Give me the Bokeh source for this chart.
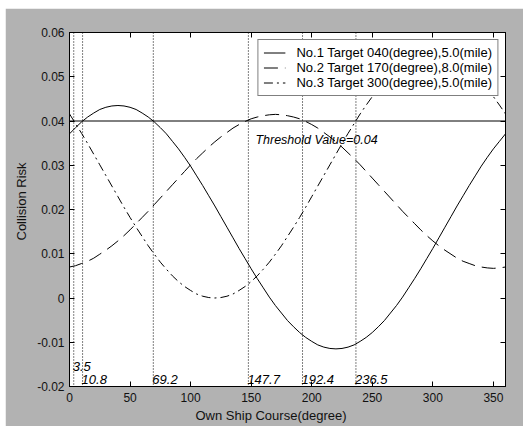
from bokeh.plotting import figure
from bokeh.models import (Range1d, LinearAxis, FixedTicker, Label, Span, Legend, LegendItem, Title,
                          CustomLabelingPolicy)
from bokeh.embed import file_html
from bokeh.resources import INLINE

# ---------------- data ----------------
course = list(range(0, 361, 5))

risk_target1 = [0.0371, 0.0385, 0.0398, 0.0409, 0.0418, 0.0426, 0.0431, 0.0434, 0.0435, 0.0434,
                0.0431, 0.0426, 0.0418, 0.0409, 0.0398, 0.0385, 0.0371, 0.0354, 0.0337, 0.0318,
                0.0298, 0.0276, 0.0254, 0.0231, 0.0208, 0.0184, 0.0160, 0.0136, 0.0112, 0.0089,
                0.0066, 0.0044, 0.0023, 0.0002, -0.0017, -0.0034, -0.0051, -0.0065, -0.0078, -0.0089,
                -0.0098, -0.0106, -0.0111, -0.0114, -0.0115, -0.0114, -0.0111, -0.0106, -0.0098, -0.0089,
                -0.0078, -0.0065, -0.0051, -0.0034, -0.0017, 0.0002, 0.0023, 0.0044, 0.0066, 0.0089,
                0.0112, 0.0136, 0.0160, 0.0184, 0.0208, 0.0231, 0.0254, 0.0276, 0.0298, 0.0318,
                0.0337, 0.0354, 0.0371]

risk_target2 = [0.0070, 0.0073, 0.0078, 0.0083, 0.0090, 0.0099, 0.0108, 0.0118, 0.0129, 0.0141,
                0.0154, 0.0168, 0.0182, 0.0196, 0.0211, 0.0226, 0.0241, 0.0256, 0.0271, 0.0286,
                0.0301, 0.0315, 0.0328, 0.0341, 0.0353, 0.0364, 0.0374, 0.0384, 0.0392, 0.0399,
                0.0405, 0.0409, 0.0412, 0.0414, 0.0415, 0.0414, 0.0412, 0.0409, 0.0405, 0.0399,
                0.0392, 0.0384, 0.0374, 0.0364, 0.0353, 0.0341, 0.0328, 0.0315, 0.0301, 0.0286,
                0.0271, 0.0256, 0.0241, 0.0226, 0.0211, 0.0196, 0.0182, 0.0168, 0.0154, 0.0141,
                0.0129, 0.0118, 0.0108, 0.0099, 0.0090, 0.0083, 0.0078, 0.0073, 0.0070, 0.0068,
                0.0067, 0.0068, 0.0070]

risk_target3 = [0.0416, 0.0394, 0.0372, 0.0349, 0.0325, 0.0301, 0.0277, 0.0253, 0.0229, 0.0205,
                0.0182, 0.0160, 0.0139, 0.0118, 0.0099, 0.0081, 0.0065, 0.0050, 0.0037, 0.0026,
                0.0017, 0.0009, 0.0004, 0.0001, 0.0000, 0.0001, 0.0004, 0.0009, 0.0017, 0.0026,
                0.0037, 0.0050, 0.0065, 0.0081, 0.0099, 0.0118, 0.0139, 0.0160, 0.0182, 0.0205,
                0.0229, 0.0253, 0.0277, 0.0301, 0.0325, 0.0349, 0.0372, 0.0394, 0.0416, 0.0436,
                0.0455, 0.0473, 0.0489, 0.0504, 0.0517, 0.0528, 0.0537, 0.0545, 0.0550, 0.0553,
                0.0554, 0.0553, 0.0550, 0.0545, 0.0537, 0.0528, 0.0517, 0.0504, 0.0489, 0.0473,
                0.0455, 0.0436, 0.0416]

threshold = 0.04
threshold_text = "Threshold Value=0.04"

cross_courses = [3.5, 10.8, 69.2, 147.7, 192.4, 236.5]
cross_labels = ["3.5", "10.8", "69.2", "147.7", "192.4", "236.5"]

legend_labels = ["No.1 Target 040(degree),5.0(mile)",
                 "No.2 Target 170(degree),8.0(mile)",
                 "No.3 Target 300(degree),5.0(mile)"]

x_ticks = [0, 50, 100, 150, 200, 250, 300, 350]
x_tick_labels = ["0", "50", "100", "150", "200", "250", "300", "350"]
y_ticks = [-0.02, -0.01, 0, 0.01, 0.02, 0.03, 0.04, 0.05, 0.06]
y_tick_labels = ["-0.02", "-0.01", "0", "0.01", "0.02", "0.03", "0.04", "0.05", "0.06"]

x_title = "Own Ship Course(degree)"
y_title = "Collision Risk"

# ---------------- figure ----------------
FONT = "Liberation Sans"
GRAY = "#b2b2b2"

p = figure(width=518, height=418, output_backend="svg", toolbar_location=None,
           x_range=Range1d(0, 360), y_range=Range1d(-0.02, 0.06),
           min_border_left=64, min_border_right=18, min_border_top=24, min_border_bottom=40,
           x_axis_label=None, y_axis_label=None)
p.margin = (8, 0, 0, 5)
p.border_fill_color = GRAY
p.background_fill_color = "white"
p.outline_line_color = "black"
p.outline_line_width = 1
p.xgrid.visible = False
p.ygrid.visible = False


def style_axis(ax, ticks, labels, show_labels=True):
    ax.ticker = FixedTicker(ticks=ticks)
    ax.major_label_overrides = {t: l for t, l in zip(ticks, labels)}
    ax.major_tick_in = 5
    ax.major_tick_out = 0
    ax.minor_tick_line_color = None
    ax.axis_line_color = "black"
    ax.major_tick_line_color = "black"
    ax.major_label_text_font = FONT
    ax.major_label_text_font_size = "12px"
    ax.major_label_text_color = "#111111"
    ax.major_label_standoff = 5
    if not show_labels:
        ax.major_label_policy = CustomLabelingPolicy(code="""
            for (const i of indices)
                indices.unset(i)
            return indices
        """)
        ax.major_label_text_font_size = "0px"
        ax.major_label_standoff = 0


style_axis(p.xaxis[0], x_ticks, x_tick_labels)
style_axis(p.yaxis[0], y_ticks, y_tick_labels)
p.xaxis[0].major_label_standoff = 6

top_ax = LinearAxis()
style_axis(top_ax, x_ticks, x_tick_labels, show_labels=False)
p.add_layout(top_ax, "above")
right_ax = LinearAxis()
style_axis(right_ax, y_ticks, y_tick_labels, show_labels=False)
p.add_layout(right_ax, "right")

# axis titles
p.add_layout(Title(text=x_title, align="left", offset=126, text_font=FONT, text_font_size="13px",
                   text_font_style="normal", text_color="#111111", standoff=2), "below")
p.add_layout(Title(text=y_title, align="left", offset=146, text_font=FONT, text_font_size="13px",
                   text_font_style="normal", text_color="#111111", standoff=12), "left")

# dotted crossing lines
for c in cross_courses:
    p.add_layout(Span(location=c, dimension="height", line_color="black",
                      line_width=1, line_dash="1 2"))

# threshold line
p.add_layout(Span(location=threshold, dimension="width", line_color="black", line_width=1))

# curves
r1 = p.line(course, risk_target1, line_color="black", line_width=1)
r2 = p.line(course, risk_target2, line_color="black", line_width=1, line_dash="14 7")
r3 = p.line(course, risk_target3, line_color="black", line_width=1, line_dash="9 4 2 4")

# crossing labels
label_y = [-0.0155] + [-0.0184] * (len(cross_courses) - 1)
for c, t, yy in zip(cross_courses, cross_labels, label_y):
    p.add_layout(Label(x=c, y=yy, text=t, x_offset=-1, text_font=FONT, text_font_size="13px",
                       text_font_style="italic", text_color="black", text_baseline="alphabetic"))

p.add_layout(Label(x=153.5, y=0.0358, text=threshold_text, text_font=FONT, text_font_size="12.5px",
                   text_font_style="italic", text_color="black", text_baseline="alphabetic"))

legend = Legend(items=[LegendItem(label=legend_labels[0], renderers=[r1]),
                       LegendItem(label=legend_labels[1], renderers=[r2]),
                       LegendItem(label=legend_labels[2], renderers=[r3])],
                location="top_right", margin=7, padding=5, spacing=0,
                glyph_width=22, glyph_height=15, label_height=15, label_standoff=11,
                label_text_font=FONT, label_text_font_size="13px", label_text_color="black",
                border_line_color="black", border_line_width=1,
                background_fill_color="white", background_fill_alpha=1.0)
p.add_layout(legend)

open("out.html", "w").write(file_html(p, INLINE))
